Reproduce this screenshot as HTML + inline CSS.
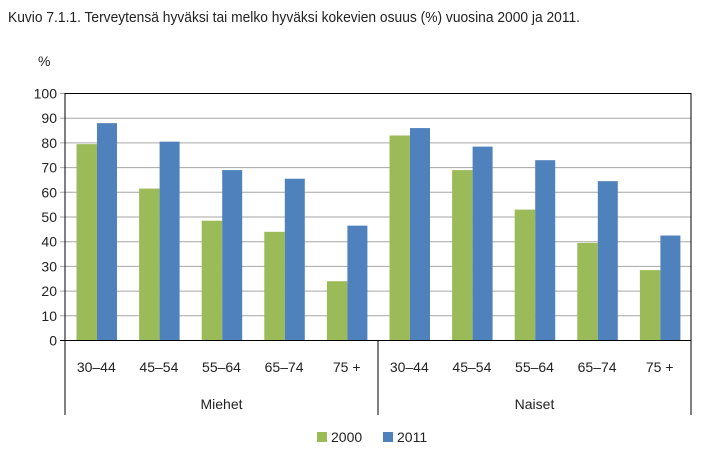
<!DOCTYPE html>
<html><head><meta charset="utf-8"><style>
body{margin:0;background:#fff;}
svg text{font-family:"Liberation Sans",sans-serif;fill:#222;}
</style></head><body>
<svg width="709" height="462" id="c">
<text x="8" y="22" font-size="14.5" textLength="572" lengthAdjust="spacingAndGlyphs">Kuvio 7.1.1. Terveytensä hyväksi tai melko hyväksi kokevien osuus (%) vuosina 2000 ja 2011.</text>
<text x="38" y="66" font-size="14">%</text>
<g id="grid"></g><g id="bars"></g><g id="axes"></g>
<g>
<rect x="317" y="432" width="10" height="10" fill="#9bbb59"/>
<text x="331" y="442" font-size="14">2000</text>
<rect x="383" y="432" width="10" height="10" fill="#4f81bd"/>
<text x="397" y="442" font-size="14">2011</text>
</g>
</svg>
<script>
const categories=["30–44","45–54","55–64","65–74","75 +","30–44","45–54","55–64","65–74","75 +"];
const groups=["Miehet","Naiset"];
const values2000=[79.5,61.5,48.5,44,24,83,69,53,39.5,28.5];
const values2011=[88,80.5,69,65.5,46.5,86,78.5,73,64.5,42.5];
const yTicks=[0,10,20,30,40,50,60,70,80,90,100];
const NS="http://www.w3.org/2000/svg";
const L=65,R=691,T=93.5,B=340.5;
const y=v=>B-(v/100)*(B-T);
const bw=(R-L)/categories.length;
const x=i=>L+i*bw;
function mk(tag,attrs,parent,txt){const e=document.createElementNS(NS,tag);for(const k in attrs)e.setAttribute(k,attrs[k]);if(txt!==undefined)e.textContent=txt;document.getElementById(parent).appendChild(e);return e;}
yTicks.forEach(t=>{
 const l=mk("line",{x1:L-5,x2:R,y1:y(t),y2:y(t),stroke:t===0?"#000":"#a6a6a6","stroke-width":1},"grid");
 
 
 const tx=mk("text",{x:L-8,y:y(t)+5,"font-size":14,"text-anchor":"end"},"grid",t);
 
 
});
categories.forEach((c,i)=>{
 const b1=mk("rect",{x:x(i)+11.5,y:y(values2000[i]),width:20.5,height:B-y(values2000[i]),fill:"#9bbb59"},"bars");
 
 
 const b2=mk("rect",{x:x(i)+32,y:y(values2011[i]),width:20,height:B-y(values2011[i]),fill:"#4f81bd"},"bars");
 
 
 const t=mk("text",{x:x(i)+bw/2,y:372,"font-size":14,"text-anchor":"middle"},"axes",c);
 
 
});
const fr=mk("rect",{x:L,y:T,width:R-L,height:B-T,fill:"none",stroke:"#000","stroke-width":1},"axes");


[0,5,10].forEach(i=>{
 const l=mk("line",{x1:x(i),x2:x(i),y1:B,y2:415,stroke:"#000","stroke-width":1},"axes");
 
 
});
groups.forEach((g,j)=>{
 const t=mk("text",{x:x(j*5)+bw*2.5,y:409,"font-size":14,"text-anchor":"middle"},"axes",g);
 
 
});
</script>
</body></html>
